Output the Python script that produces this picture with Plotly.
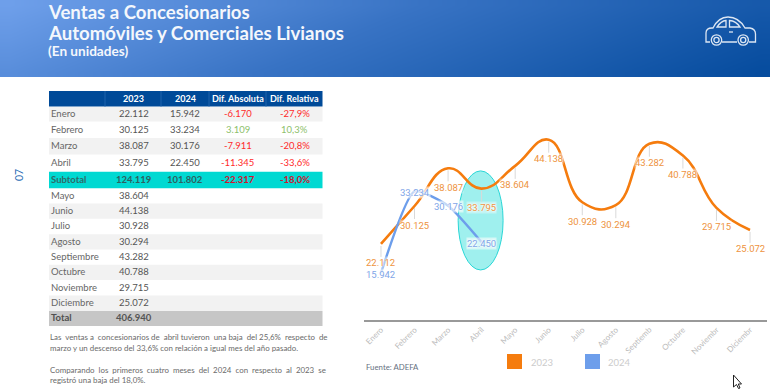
import plotly.graph_objects as go

months = ["Enero","Febrero","Marzo","Abril","Mayo","Junio","Julio","Agosto","Septiembre","Octubre","Noviembre","Diciembre"]
tick_labels = ["Enero","Febrero","Marzo","Abril","Mayo","Junio","Julio","Agosto","Septiemb","Octubre","Noviembr","Diciembr"]
v2023 = [22112,30125,38087,33795,38604,44138,30928,30294,43282,40788,29715,25072]
v2024 = [15942,33234,30176,22450]

row_names = ["Enero","Febrero","Marzo","Abril","Subtotal","Mayo","Junio","Julio","Agosto","Septiembre","Octubre","Noviembre","Diciembre","Total"]
col_2023 = ["22.112","30.125","38.087","33.795","124.119","38.604","44.138","30.928","30.294","43.282","40.788","29.715","25.072","406.940"]
col_2024 = ["15.942","33.234","30.176","22.450","101.802"]
col_abs = ["-6.170","3.109","-7.911","-11.345","-22.317"]
col_rel = ["-27,9%","10,3%","-20,8%","-33,6%","-18,0%"]
headers = ["2023","2024","Dif. Absoluta","Dif. Relativa"]
N = "\u00a0 "
paragraphs = [
    f"Las{N}ventas a{N}concesionarios de{N}abril tuvieron{N}una baja{N}del 25,6%{N}respecto{N}de",
    "marzo y un descenso del 33,6% con relación a igual mes del año pasado.",
    f"Comparando{N}los{N}primeros{N}cuatro{N}meses{N}del{N}2024{N}con{N}respecto{N}al{N}2023{N}se",
    "registró una baja del 18,0%.",
]

FONT = "Lato"
ORANGE = "#F57C0E"
BLUE = "#6D9EEB"
fmt = lambda v: f"{v:,}".replace(",", ".")

fig = go.Figure()

# header gradient
nx, ny = 40, 8
gx = [770 * i / nx for i in range(nx + 1)]
gy = [77 * j / ny for j in range(ny + 1)]
gz = [[(i / (nx - 1)) * 0.82 + (j / (ny - 1)) * 0.18 for i in range(nx)] for j in range(ny)]
fig.add_trace(go.Heatmap(x=gx, y=gy, z=gz, xaxis="x2", yaxis="y2", showscale=False, zsmooth="best",
                         zmin=0, zmax=1, hoverinfo="skip",
                         colorscale=[[0, "#6E9FEA"], [0.45, "#3873C4"], [1, "#064C9E"]]))

fig.add_trace(go.Scatter(x=months, y=v2023, mode="lines", line=dict(color=ORANGE, width=2.6, shape="spline", smoothing=1.3), hoverinfo="skip", showlegend=False))
fig.add_trace(go.Scatter(x=months[:4], y=v2024, mode="lines", line=dict(color=BLUE, width=2.4, shape="spline", smoothing=0.55), hoverinfo="skip", showlegend=False))

shapes = []
ann = []

def rect(x0, y0, x1, y1, color):
    shapes.append(dict(type="rect", xref="x2", yref="y2", x0=x0, y0=y0, x1=x1, y1=y1, fillcolor=color, line=dict(width=0), layer="below"))

def text(x, y, s, size=9.5, color="#555", bold=False, anchor="center", angle=0, family=FONT):
    if bold:
        s = f"<b>{s}</b>"
    if anchor == "left":
        x -= 2
    ann.append(dict(xref="x2", yref="y2", x=x, y=y, text=s, showarrow=False, xanchor=anchor, yanchor="middle",
                    textangle=angle, font=dict(family=family, size=size, color=color)))

# title
text(48, 12, "Ventas a Concesionarios", 18.6, "#F4F7FC", True, "left")
text(48, 33, "Automóviles y Comerciales Livianos", 18.6, "#F4F7FC", True, "left")
text(48, 51, "(En unidades)", 13.6, "#F4F7FC", True, "left")

# table
col_edges = [49, 105, 161, 209, 266, 322.5]
centers = [133.5, 185, 237.7, 294.7]
rect(49, 91, 322.5, 106.5, "#004A98")
for e in col_edges[1:-1]:
    shapes.append(dict(type="line", xref="x2", yref="y2", x0=e, x1=e, y0=91, y1=106.5, line=dict(color="#1F62AB", width=1), layer="below"))
for c, h in zip(centers, headers):
    text(c, 98.3, h, 9, "#FFFFFF", True)

row_tops = [107, 121.5, 138, 154.5, 171.7, 188.3, 203.5, 218.8, 234.3, 249.5, 264.8, 280, 295.5, 311, 326]
grey_rows = [0, 2, 6, 8, 10, 12]
for r in grey_rows:
    rect(49, row_tops[r], 322.5, row_tops[r + 1], "#F2F2F2")
rect(49, row_tops[4], 322.5, row_tops[5], "#00D9D2")
rect(49, row_tops[13], 322.5, row_tops[14], "#C6C6C6")

for r, name in enumerate(row_names):
    yc = (row_tops[r] + row_tops[r + 1]) / 2 - 0.7
    is_sub = name == "Subtotal"
    is_tot = name == "Total"
    strong = is_sub or is_tot
    tcol = "#2F6A68" if is_sub else ("#505050" if strong else "#666")
    text(51, yc, name, 9.5, tcol, strong, "left")
    text(centers[0], yc, col_2023[r], 9.5, "#2F5F5E" if is_sub else "#555", strong)
    if r < 5:
        text(centers[1], yc, col_2024[r], 9.5, "#2F5F5E" if is_sub else "#555", strong)
        neg = col_abs[r].startswith("-")
        c = ("#D4122E" if is_sub else "#FF2A2A") if neg else "#8DBF6B"
        text(centers[2], yc, col_abs[r], 9.5, c, strong)
        text(centers[3], yc, col_rel[r], 9.5, c, strong)

# paragraphs
for s, y in zip(paragraphs, [337, 348, 369.5, 380]):
    text(49.5, y, s, 7.9, "#6A6A6A", False, "left")

text(19, 175, "07", 10.5, "#2A6DB5", False, "center", -90)
text(366, 367, "Fuente: ADEFA", 7.8, "#667080", False, "left")

# legend
rect(507, 354, 522, 369, ORANGE)
rect(585, 354, 600, 369, BLUE)
text(531, 362.5, "2023", 9.5, "#CCCCCC", False, "left")
text(608, 362.5, "2024", 9.5, "#CCCCCC", False, "left")

# ellipse highlight
shapes.append(dict(type="circle", xref="x", yref="y", x0=2.3, x1=3.64, y0=16615, y1=37545, fillcolor="#9FF0EE", line=dict(color="#2AD6D6", width=1), layer="below"))

# car icon
ICON = "#DCE6F3"
def path(d, color=ICON, width=1.3, fill="rgba(0,0,0,0)", layer="above"):
    shapes.append(dict(type="path", xref="x2", yref="y2", path=d, line=dict(color=color, width=width), fillcolor=fill, layer=layer))
path("M710,42 L706,42 L706,33 Q706,28 712,28 L713,28 C717,20 722,17 728,17 C735,17 741,21 745,28 L750,28 Q755.5,29 755.5,34 L755.5,42 L749,42 M722,42 L737,42")
path("M717,27 Q721,21 726,20.5 L726,27 Z")
path("M729.5,20.5 Q736,21 740,27 L729.5,27 Z")
path("M729,32 L733,32")
for cx in (716.5, 743.2):
    for r in (5.2, 2.6):
        shapes.append(dict(type="circle", xref="x2", yref="y2", x0=cx - r, x1=cx + r, y0=40 - r, y1=40 + r, line=dict(color=ICON, width=1.3), fillcolor="rgba(0,0,0,0)"))

# cursor
path("M733.5,375 L733.5,387 L736.5,384.5 L738.5,388.5 L740,388 L738.3,384 L741.5,384 Z", "#222222", 1, "#FFFFFF")

# data labels
HALO = "0 0 2px white, 0 0 2px white, 0 0 3px white"
for m, v in zip(months, v2023):
    ann.append(dict(x=m, y=v, xref="x", yref="y", text=fmt(v), showarrow=True, arrowhead=0, arrowwidth=1, arrowcolor="#D9D9D9",
                    ax=0, ay=19, standoff=2, bgcolor="rgba(255,255,255,0.35)", borderpad=0,
                    font=dict(family="Roboto", size=9.5, color="#EE9340", shadow=HALO)))
for m, v in zip(months, v2024):
    ann.append(dict(x=m, y=v, xref="x", yref="y", text=fmt(v), showarrow=False, yshift=-1, bgcolor="rgba(255,255,255,0.55)", borderpad=0,
                    font=dict(family="Roboto", size=9.5, color="#7FA6E8", shadow=HALO)))

fig.update_layout(
    width=770, height=389, autosize=False, margin=dict(l=0, r=0, t=0, b=0),
    paper_bgcolor="white", plot_bgcolor="rgba(0,0,0,0)", showlegend=False,
    font=dict(family=FONT),
    xaxis=dict(domain=[364.2 / 770, 766.8 / 770], range=[-0.5, 11.5], type="category", categoryorder="array", categoryarray=months,
               tickmode="array", tickvals=months, ticktext=tick_labels, tickangle=-45, showgrid=False, zeroline=False, ticks="",
               showline=True, linecolor="#999999", linewidth=2, tickfont=dict(family=FONT, size=8, color="#BBBBBB"), anchor="y"),
    yaxis=dict(domain=[(389 - 320) / 389, (389 - 121.4) / 389], range=[6044, 48000], visible=False, anchor="x"),
    xaxis2=dict(domain=[0, 1], range=[0, 770], visible=False, anchor="y2"),
    yaxis2=dict(domain=[0, 1], range=[389, 0], visible=False, anchor="x2"),
    shapes=shapes, annotations=ann,
)
fig.write_html("out.html", config={"displayModeBar": False},
               post_script="document.body.style.margin='0';document.body.style.overflow='hidden';")
